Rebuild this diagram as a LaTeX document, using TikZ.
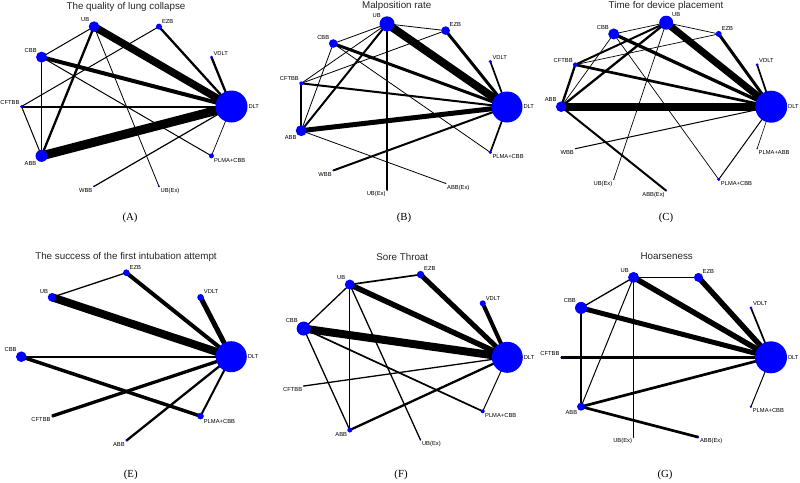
\documentclass[tikz,border=0pt]{standalone}
\usepackage{fontspec}
\setmainfont{Liberation Sans}
\newfontfamily\serifL{Liberation Serif}
\pgfdeclarelayer{back}
\pgfdeclarelayer{edges}
\pgfsetlayers{back,edges,main}
\tikzset{
  pt/.style={circle, fill=blue, draw=none, inner sep=0pt, outer sep=0pt},
  lbl/.style={font=\fontsize{5.8}{6}\selectfont, inner sep=0.8pt, text=black},
  ttl/.style={font=\fontsize{9.8}{11}\selectfont, inner sep=0pt, text=black!85},
  plab/.style={font=\serifL\fontsize{10.8}{12}\selectfont, inner sep=0pt},
}
% name, angle, diameter, label position, text
\newcommand\pnode[5]{\node[pt, minimum size=#3pt, label={[lbl]#4:#5}] (#1) at (#2:105 and 84) {};}
\newcommand\ee[3]{\draw[line width=#3pt] (#1.center) -- (#2.center);}
\begin{document}
\begin{tikzpicture}[x=1pt,y=1pt]
\begin{pgfonlayer}{back}
\fill[white] (0,0) rectangle (800,-482);
\end{pgfonlayer}
\useasboundingbox (0,0) rectangle (800,-482);

% ---------- titles and panel letters ----------
\node[ttl] (tA) at (126,-6.7) {The quality of lung collapse};
\node[ttl] (tB) at (396.7,-5.5) {Malposition rate};
\node[ttl] (tC) at (666,-5.7) {Time for device placement};
\node[ttl] (tE) at (126,-257.3) {The success of the first intubation attempt};
\node[ttl] (tF) at (402.3,-257.3) {Sore Throat};
\node[ttl] (tG) at (666.7,-256) {Hoarseness};
\node[plab] (lA) at (130,-218) {(A)};
\node[plab] (lB) at (404,-217.5) {(B)};
\node[plab] (lC) at (666,-218) {(C)};
\node[plab] (lE) at (130.7,-475) {(E)};
\node[plab] (lF) at (401,-475) {(F)};
\node[plab] (lG) at (665,-475) {(G)};

% ---------- Panel A ----------
\begin{scope}[shift={(126.5,-106.5)}]
\pnode{aDLT}{0}{32}{right}{DLT}
\pnode{aVDLT}{36}{3}{above right}{VDLT}
\pnode{aEZB}{72}{6}{above right}{EZB}
\pnode{aUB}{108}{10.6}{above left}{UB}
\pnode{aCBB}{144}{11}{above left}{CBB}
\pnode{aCFTBB}{180}{3}{above left}{CFTBB}
\pnode{aABB}{216}{12}{below left}{ABB}
\pnode{aWBB}{252}{2}{below left}{WBB}
\pnode{aUBEx}{288}{2}{below right}{UB(Ex)}
\pnode{aPLMA}{324}{5}{below right}{PLMA+CBB}
\end{scope}
\begin{pgfonlayer}{edges}
\ee{aUB}{aDLT}{7.5}
\ee{aABB}{aDLT}{9}
\ee{aCBB}{aDLT}{4}
\ee{aEZB}{aDLT}{2.3}
\ee{aVDLT}{aDLT}{2.3}
\ee{aCFTBB}{aDLT}{2}
\ee{aUB}{aABB}{2.3}
\ee{aUB}{aCBB}{1}
\ee{aUB}{aUBEx}{0.8}
\ee{aEZB}{aCFTBB}{1}
\ee{aCBB}{aABB}{1}
\ee{aCBB}{aPLMA}{1}
\ee{aCFTBB}{aABB}{1}
\ee{aPLMA}{aDLT}{0.7}
\ee{aWBB}{aDLT}{1.2}
\end{pgfonlayer}

% ---------- Panel B ----------
\begin{scope}[shift={(402,-107)}]
\pnode{bDLT}{0}{31}{right}{DLT}
\pnode{bVDLT}{32.727}{3.4}{above right}{VDLT}
\pnode{bEZB}{65.455}{8.6}{above right}{EZB}
\pnode{bUB}{98.182}{15}{above left}{UB}
\pnode{bCBB}{130.909}{8.6}{above left}{CBB}
\pnode{bCFTBB}{163.636}{4}{above left}{CFTBB}
\pnode{bABB}{196.364}{11}{below left}{ABB}
\pnode{bWBB}{229.091}{1.6}{below left}{WBB}
\pnode{bUBEx}{261.818}{1.6}{below left}{UB(Ex)}
\pnode{bABBEx}{294.545}{1.6}{below right}{ABB(Ex)}
\pnode{bPLMA}{327.273}{3.4}{below right}{PLMA+CBB}
\end{scope}
\begin{pgfonlayer}{edges}
\ee{bUB}{bDLT}{8}
\ee{bABB}{bDLT}{5}
\ee{bCBB}{bDLT}{3}
\ee{bEZB}{bDLT}{3}
\ee{bCFTBB}{bDLT}{2}
\ee{bVDLT}{bDLT}{1.7}
\ee{bPLMA}{bDLT}{1.7}
\ee{bWBB}{bDLT}{2}
\ee{bUB}{bABB}{2}
\ee{bUB}{bUBEx}{1.7}
\ee{bUB}{bEZB}{0.8}
\ee{bUB}{bCBB}{0.8}
\ee{bUB}{bCFTBB}{0.8}
\ee{bEZB}{bCFTBB}{0.8}
\ee{bCBB}{bABB}{0.8}
\ee{bCBB}{bPLMA}{0.8}
\ee{bABB}{bABBEx}{0.8}
\ee{bCFTBB}{bABB}{2}
\end{pgfonlayer}

% ---------- Panel C ----------
\begin{scope}[shift={(666.2,-106.7)}]
\pnode{cDLT}{0}{32}{right}{DLT}
\pnode{cVDLT}{30}{3}{above right}{VDLT}
\pnode{cEZB}{60}{6}{above right}{EZB}
\pnode{cUB}{90}{14}{above right}{UB}
\pnode{cCBB}{120}{11}{above left}{CBB}
\pnode{cCFTBB}{150}{4.6}{above left}{CFTBB}
\pnode{cABB}{180}{10.6}{above left}{ABB}
\pnode{cWBB}{210}{1.2}{below left}{WBB}
\pnode{cUBEx}{240}{1.2}{below left}{UB(Ex)}
\pnode{cABBEx}{270}{1.6}{below left}{ABB(Ex)}
\pnode{cPLMAC}{300}{3.4}{below right}{PLMA+CBB}
\pnode{cPLMAA}{330}{1.6}{below right}{PLMA+ABB}
\end{scope}
\begin{pgfonlayer}{edges}
\ee{cABB}{cDLT}{8}
\ee{cUB}{cDLT}{7}
\ee{cCBB}{cDLT}{3.3}
\ee{cEZB}{cDLT}{3}
\ee{cCFTBB}{cDLT}{2.7}
\ee{cVDLT}{cDLT}{1.7}
\ee{cWBB}{cDLT}{1}
\ee{cPLMAC}{cDLT}{1}
\ee{cPLMAA}{cDLT}{0.6}
\ee{cABB}{cABBEx}{2}
\ee{cABB}{cCFTBB}{2.3}
\ee{cABB}{cUB}{2.3}
\ee{cCFTBB}{cUB}{2}
\ee{cUB}{cCBB}{0.7}
\ee{cUB}{cEZB}{0.7}
\ee{cUB}{cUBEx}{0.7}
\ee{cCBB}{cPLMAC}{0.7}
\ee{cCBB}{cABB}{0.7}
\ee{cCFTBB}{cEZB}{0.7}
\end{pgfonlayer}

% ---------- Panel E ----------
\begin{scope}[shift={(126.3,-356.7)}]
\pnode{eDLT}{0}{31}{right}{DLT}
\pnode{eVDLT}{45}{6.6}{above right}{VDLT}
\pnode{eEZB}{90}{6.6}{above right}{EZB}
\pnode{eUB}{135}{8.6}{above left}{UB}
\pnode{eCBB}{180}{10.6}{above left}{CBB}
\pnode{eCFTBB}{225}{1.6}{below left}{CFTBB}
\pnode{eABB}{270}{1.6}{below left}{ABB}
\pnode{ePLMA}{315}{6.6}{below right}{PLMA+CBB}
\end{scope}
\begin{pgfonlayer}{edges}
\ee{eUB}{eDLT}{8}
\ee{eEZB}{eDLT}{4}
\ee{eVDLT}{eDLT}{5}
\ee{eCBB}{eDLT}{1.7}
\ee{eCBB}{ePLMA}{3.5}
\ee{eCFTBB}{eDLT}{3.3}
\ee{eABB}{eDLT}{2.3}
\ee{ePLMA}{eDLT}{2}
\ee{eUB}{eEZB}{1.3}
\end{pgfonlayer}

% ---------- Panel F ----------
\begin{scope}[shift={(402.3,-357.3)}]
\pnode{fDLT}{0}{31}{right}{DLT}
\pnode{fVDLT}{40}{6}{above right}{VDLT}
\pnode{fEZB}{80}{7.4}{above right}{EZB}
\pnode{fUB}{120}{10}{above left}{UB}
\pnode{fCBB}{160}{14}{above left}{CBB}
\pnode{fCFTBB}{200}{1.4}{below left}{CFTBB}
\pnode{fABB}{240}{5}{below left}{ABB}
\pnode{fUBEx}{280}{1.4}{below right}{UB(Ex)}
\pnode{fPLMA}{320}{4}{below right}{PLMA+CBB}
\end{scope}
\begin{pgfonlayer}{edges}
\ee{fCBB}{fDLT}{8}
\ee{fUB}{fDLT}{5.5}
\ee{fEZB}{fDLT}{5}
\ee{fVDLT}{fDLT}{4}
\ee{fABB}{fDLT}{2.3}
\ee{fCFTBB}{fDLT}{1.3}
\ee{fPLMA}{fDLT}{1}
\ee{fUB}{fEZB}{1.7}
\ee{fUB}{fCBB}{1.3}
\ee{fUB}{fABB}{1}
\ee{fUB}{fUBEx}{1.3}
\ee{fCBB}{fABB}{1.3}
\ee{fCBB}{fPLMA}{1.7}
\end{pgfonlayer}

% ---------- Panel G ----------
\begin{scope}[shift={(666,-357.3)}]
\pnode{gDLT}{0}{32}{right}{DLT}
\pnode{gVDLT}{36}{3}{above right}{VDLT}
\pnode{gEZB}{72}{9}{above right}{EZB}
\pnode{gUB}{108}{11}{above left}{UB}
\pnode{gCBB}{144}{12}{above left}{CBB}
\pnode{gCFTBB}{180}{1.6}{above left}{CFTBB}
\pnode{gABB}{216}{8}{below left}{ABB}
\pnode{gUBEx}{252}{1.6}{below left}{UB(Ex)}
\pnode{gABBEx}{288}{1.6}{below right}{ABB(Ex)}
\pnode{gPLMA}{324}{2.6}{below right}{PLMA+CBB}
\end{scope}
\begin{pgfonlayer}{edges}
\ee{gUB}{gDLT}{5.5}
\ee{gEZB}{gDLT}{5.5}
\ee{gCBB}{gDLT}{5}
\ee{gCFTBB}{gDLT}{2.7}
\ee{gABB}{gDLT}{2.7}
\ee{gVDLT}{gDLT}{1.7}
\ee{gPLMA}{gDLT}{1}
\ee{gUB}{gEZB}{1.7}
\ee{gUB}{gCBB}{1.3}
\ee{gUB}{gABB}{1}
\ee{gUB}{gUBEx}{1.7}
\ee{gCBB}{gABB}{1.3}
\ee{gABB}{gABBEx}{2.7}
\end{pgfonlayer}
\end{tikzpicture}
\end{document}
